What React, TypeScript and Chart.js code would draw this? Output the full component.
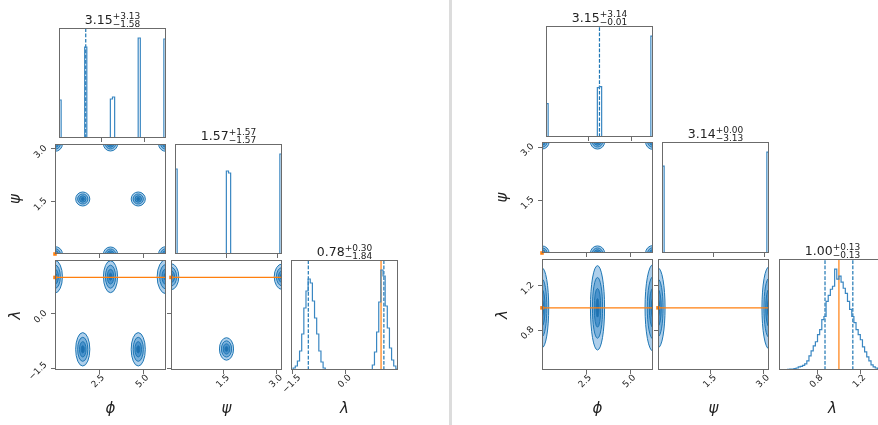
import React, { useEffect, useRef } from "react";
import { Chart, registerables } from "chart.js";

Chart.register(...registerables);

// ---------------- data ----------------
const PARAM_NAMES = ["ϕ", "ψ", "λ"];
const TRUTHS = [0.0, 0.0, 1.0];

const PHI_RANGE = [0, 6.2832];
const PSI_RANGE = [0, 3.1416];
const LEFT_LAM_RANGE = [-1.55, 1.48];
const RIGHT_LAM_RANGE = [0.44, 1.44];

const PHI_TICKS = [2.5, 5.0];
const PHI_TICK_LABELS = ["2.5", "5.0"];
const PSI_TICKS = [1.5, 3.0];
const PSI_TICK_LABELS = ["1.5", "3.0"];
const LEFT_LAM_TICKS = [-1.5, 0.0];
const LEFT_LAM_TICK_LABELS = ["−1.5", "0.0"];
const RIGHT_LAM_TICKS = [0.8, 1.2];
const RIGHT_LAM_TICK_LABELS = ["0.8", "1.2"];

// titles: median, +err, -err
const LEFT_MEDIANS = ["3.15", "1.57", "0.78"];
const LEFT_PLUS = ["+3.13", "+1.57", "+0.30"];
const LEFT_MINUS = ["−1.58", "−1.57", "−1.84"];
const RIGHT_MEDIANS = ["3.15", "3.14", "1.00"];
const RIGHT_PLUS = ["+3.14", "+0.00", "+0.13"];
const RIGHT_MINUS = ["−0.01", "−3.13", "−0.13"];

// quantile (16%, 84%) positions
const LEFT_PHI_Q = [1.57, 6.28];
const LEFT_PSI_Q = [0.0, 3.14];
const LEFT_LAM_Q = [-1.06, 1.08];
const RIGHT_PHI_Q = [3.14, 6.29];
const RIGHT_PSI_Q = [0.01, 3.14];
const RIGHT_LAM_Q = [0.87, 1.13];

// histogram counts, 50 bins over each range
const LEFT_PHI_COUNTS = [
  38, 0, 0, 0, 0, 0, 0, 0, 0, 0, 0, 0, 91, 0, 0, 0, 0, 0, 0, 0, 0, 0, 0, 0, 39,
  41, 0, 0, 0, 0, 0, 0, 0, 0, 0, 0, 0, 100, 0, 0, 0, 0, 0, 0, 0, 0, 0, 0, 0, 99,
];
const LEFT_PSI_COUNTS = [
  85, 0, 0, 0, 0, 0, 0, 0, 0, 0, 0, 0, 0, 0, 0, 0, 0, 0, 0, 0, 0, 0, 0, 0, 83,
  81, 0, 0, 0, 0, 0, 0, 0, 0, 0, 0, 0, 0, 0, 0, 0, 0, 0, 0, 0, 0, 0, 0, 0, 100,
];
const LEFT_LAM_COUNTS = [
  0, 2, 4, 9, 19, 36, 62, 79, 91, 87, 69, 52, 36, 19, 8, 2, 0, 0, 0, 0, 0, 0, 0, 0, 0,
  0, 0, 0, 0, 0, 0, 0, 0, 0, 0, 0, 0, 0, 5, 18, 38, 68, 100, 94, 64, 42, 22, 10, 4, 1,
];
const RIGHT_PHI_COUNTS = [
  33, 0, 0, 0, 0, 0, 0, 0, 0, 0, 0, 0, 0, 0, 0, 0, 0, 0, 0, 0, 0, 0, 0, 0, 49,
  50, 0, 0, 0, 0, 0, 0, 0, 0, 0, 0, 0, 0, 0, 0, 0, 0, 0, 0, 0, 0, 0, 0, 0, 100,
];
const RIGHT_PSI_COUNTS = [
  86, 0, 0, 0, 0, 0, 0, 0, 0, 0, 0, 0, 0, 0, 0, 0, 0, 0, 0, 0, 0, 0, 0, 0, 0,
  0, 0, 0, 0, 0, 0, 0, 0, 0, 0, 0, 0, 0, 0, 0, 0, 0, 0, 0, 0, 0, 0, 0, 0, 100,
];
const RIGHT_LAM_COUNTS = [
  0, 0, 0, 0.3, 0.7, 1, 1, 1.5, 2, 3, 3.5, 4.5, 6, 9, 14, 19, 24, 28, 35, 40, 50, 53, 68, 74, 80,
  83, 100, 90, 93, 87, 81, 76, 68, 60, 53, 47, 40, 35, 30, 23, 18, 13, 9, 5, 3, 2, 1, 1, 0, 0,
];

// 2D density blobs: centre (x, y) and outer-contour half-extent (rx, ry)
const LEFT_PHIPSI_X = [0, 3.142, 6.283, 1.571, 4.712, 0, 3.142, 6.283];
const LEFT_PHIPSI_Y = [0, 0, 0, 1.571, 1.571, 3.142, 3.142, 3.142];
const LEFT_PHIPSI_RX = [0.42, 0.4, 0.42, 0.4, 0.4, 0.42, 0.4, 0.42];
const LEFT_PHIPSI_RY = [0.21, 0.2, 0.21, 0.2, 0.2, 0.21, 0.2, 0.21];

const LEFT_PHILAM_X = [0, 3.142, 6.283, 1.571, 4.712];
const LEFT_PHILAM_Y = [1.02, 1.02, 1.02, -0.98, -0.98];
const LEFT_PHILAM_RX = [0.42, 0.4, 0.5, 0.4, 0.4];
const LEFT_PHILAM_RY = [0.45, 0.44, 0.47, 0.46, 0.46];

const LEFT_PSILAM_X = [0, 3.142, 1.571];
const LEFT_PSILAM_Y = [1.02, 1.02, -0.97];
const LEFT_PSILAM_RX = [0.22, 0.22, 0.2];
const LEFT_PSILAM_RY = [0.36, 0.35, 0.31];

const RIGHT_PHIPSI_X = [0, 3.142, 6.283, 0, 3.142, 6.283];
const RIGHT_PHIPSI_Y = [0, 0, 0, 3.142, 3.142, 3.142];
const RIGHT_PHIPSI_RX = [0.4, 0.4, 0.42, 0.4, 0.4, 0.42];
const RIGHT_PHIPSI_RY = [0.2, 0.2, 0.21, 0.2, 0.2, 0.21];

const RIGHT_PHILAM_X = [0, 3.142, 6.283];
const RIGHT_PHILAM_Y = [1.0, 1.0, 1.0];
const RIGHT_PHILAM_RX = [0.38, 0.4, 0.45];
const RIGHT_PHILAM_RY = [0.36, 0.38, 0.39];

const RIGHT_PSILAM_X = [0, 3.142];
const RIGHT_PSILAM_Y = [1.0, 1.0];
const RIGHT_PSILAM_RX = [0.2, 0.2];
const RIGHT_PSILAM_RY = [0.36, 0.37];

// ---------------- layout & style ----------------
const LEFT_COLS = [55, 171, 287];
const LEFT_ROWS = [28, 144, 260];
const LEFT_W = 111;
const LEFT_H = 110;
const RIGHT_COLS = [542, 658, 775];
const RIGHT_ROWS = [26, 142, 259];
const RIGHT_W = 111;
const RIGHT_H = 111;

const ML = 62;
const MR = 8;
const MT = 30;
const MB = 52;

const C0 = "#1f77b4";
const HIST_COLOR = "#3a87c2";
const ORANGE = "#ff7f0e";
const SPINE = "#6b6b6b";
const TEXT = "#222222";
const LEVEL_SCALE = [1, 0.72, 0.46, 0.22];
const LEVEL_FILLS = ["#aecfeb", "#79b0db", "#4a92cc", "#1f6fb0"];
const FONT = '"DejaVu Sans", sans-serif';

type Blobs = { x: number[]; y: number[]; rx: number[]; ry: number[] };
type Spec = {
  left: number;
  top: number;
  w: number;
  h: number;
  xRange: number[];
  xTicks: number[];
  xTickLabels: string[] | null;
  xTitle: string | null;
  yRange: number[] | null;
  yTicks: number[] | null;
  yTickLabels: string[] | null;
  yTitle: string | null;
  counts?: number[];
  quant?: number[];
  truthX?: number;
  title?: string[];
  blobs?: Blobs;
  truth2d?: number[];
};

function buildPlot(
  cols: number[],
  rows: number[],
  w: number,
  h: number,
  ranges: number[][],
  ticks: number[][],
  tickLabels: string[][],
  counts: number[][],
  quants: number[][],
  medians: string[],
  plus: string[],
  minus: string[],
  blobs: Record<string, Blobs>
): Spec[] {
  const specs: Spec[] = [];
  for (let r = 0; r < 3; r++) {
    for (let c = 0; c <= r; c++) {
      const isHist = r === c;
      const s: Spec = {
        left: cols[c],
        top: rows[r],
        w,
        h,
        xRange: ranges[c],
        xTicks: ticks[c],
        xTickLabels: r === 2 ? tickLabels[c] : null,
        xTitle: r === 2 ? PARAM_NAMES[c] : null,
        yRange: isHist ? null : ranges[r],
        yTicks: isHist ? null : ticks[r],
        yTickLabels: !isHist && c === 0 ? tickLabels[r] : null,
        yTitle: !isHist && c === 0 ? PARAM_NAMES[r] : null,
      };
      if (isHist) {
        s.counts = counts[c];
        s.quant = quants[c];
        s.truthX = TRUTHS[c];
        s.title = [medians[c], plus[c], minus[c]];
      } else {
        s.blobs = blobs[`${r}${c}`];
        s.truth2d = [TRUTHS[c], TRUTHS[r]];
      }
      specs.push(s);
    }
  }
  return specs;
}

const LEFT_SPECS = buildPlot(
  LEFT_COLS,
  LEFT_ROWS,
  LEFT_W,
  LEFT_H,
  [PHI_RANGE, PSI_RANGE, LEFT_LAM_RANGE],
  [PHI_TICKS, PSI_TICKS, LEFT_LAM_TICKS],
  [PHI_TICK_LABELS, PSI_TICK_LABELS, LEFT_LAM_TICK_LABELS],
  [LEFT_PHI_COUNTS, LEFT_PSI_COUNTS, LEFT_LAM_COUNTS],
  [LEFT_PHI_Q, LEFT_PSI_Q, LEFT_LAM_Q],
  LEFT_MEDIANS,
  LEFT_PLUS,
  LEFT_MINUS,
  {
    "10": { x: LEFT_PHIPSI_X, y: LEFT_PHIPSI_Y, rx: LEFT_PHIPSI_RX, ry: LEFT_PHIPSI_RY },
    "20": { x: LEFT_PHILAM_X, y: LEFT_PHILAM_Y, rx: LEFT_PHILAM_RX, ry: LEFT_PHILAM_RY },
    "21": { x: LEFT_PSILAM_X, y: LEFT_PSILAM_Y, rx: LEFT_PSILAM_RX, ry: LEFT_PSILAM_RY },
  }
);

const RIGHT_SPECS = buildPlot(
  RIGHT_COLS,
  RIGHT_ROWS,
  RIGHT_W,
  RIGHT_H,
  [PHI_RANGE, PSI_RANGE, RIGHT_LAM_RANGE],
  [PHI_TICKS, PSI_TICKS, RIGHT_LAM_TICKS],
  [PHI_TICK_LABELS, PSI_TICK_LABELS, RIGHT_LAM_TICK_LABELS],
  [RIGHT_PHI_COUNTS, RIGHT_PSI_COUNTS, RIGHT_LAM_COUNTS],
  [RIGHT_PHI_Q, RIGHT_PSI_Q, RIGHT_LAM_Q],
  RIGHT_MEDIANS,
  RIGHT_PLUS,
  RIGHT_MINUS,
  {
    "10": { x: RIGHT_PHIPSI_X, y: RIGHT_PHIPSI_Y, rx: RIGHT_PHIPSI_RX, ry: RIGHT_PHIPSI_RY },
    "20": { x: RIGHT_PHILAM_X, y: RIGHT_PHILAM_Y, rx: RIGHT_PHILAM_RX, ry: RIGHT_PHILAM_RY },
    "21": { x: RIGHT_PSILAM_X, y: RIGHT_PSILAM_Y, rx: RIGHT_PSILAM_RX, ry: RIGHT_PSILAM_RY },
  }
);

function drawRotatedLabel(ctx: CanvasRenderingContext2D, text: string, cx: number, cy: number, angle: number) {
  ctx.save();
  ctx.translate(cx, cy);
  ctx.rotate(angle);
  ctx.textAlign = "center";
  ctx.textBaseline = "middle";
  ctx.fillText(text, 0, 0);
  ctx.restore();
}

function makeDecor(spec: Spec) {
  return {
    id: "cornerDecor",
    beforeDatasetsDraw(chart: any) {
      const { ctx, chartArea: a, scales } = chart;
      const xs = scales.x;
      const ys = scales.y;
      if (spec.blobs) {
        const b = spec.blobs;
        ctx.save();
        ctx.beginPath();
        ctx.rect(a.left, a.top, a.right - a.left, a.bottom - a.top);
        ctx.clip();
        for (let i = 0; i < b.x.length; i++) {
          const cx = xs.getPixelForValue(b.x[i]);
          const cy = ys.getPixelForValue(b.y[i]);
          const rx = Math.abs(xs.getPixelForValue(b.x[i] + b.rx[i]) - cx);
          const ry = Math.abs(ys.getPixelForValue(b.y[i] + b.ry[i]) - cy);
          for (let k = 0; k < LEVEL_SCALE.length; k++) {
            ctx.beginPath();
            ctx.ellipse(cx, cy, rx * LEVEL_SCALE[k], ry * LEVEL_SCALE[k], 0, 0, Math.PI * 2);
            ctx.fillStyle = LEVEL_FILLS[k];
            ctx.fill();
            ctx.lineWidth = 1;
            ctx.strokeStyle = C0;
            ctx.stroke();
          }
        }
        ctx.restore();
      }
    },
    afterDatasetsDraw(chart: any) {
      const { ctx, chartArea: a } = chart;
      ctx.save();
      ctx.strokeStyle = SPINE;
      ctx.lineWidth = 1;
      ctx.strokeRect(a.left + 0.5, a.top + 0.5, a.right - a.left - 1, a.bottom - a.top - 1);
      ctx.restore();
    },
    afterDraw(chart: any) {
      const { ctx, chartArea: a, scales } = chart;
      const xs = scales.x;
      const ys = scales.y;
      ctx.save();
      ctx.fillStyle = TEXT;
      const tickFont = 9;
      ctx.font = `${tickFont}px ${FONT}`;
      if (spec.xTickLabels) {
        spec.xTicks.forEach((v, i) => {
          const t = spec.xTickLabels![i];
          const w = ctx.measureText(t).width;
          const ext = (w + tickFont * 0.73) / Math.SQRT2;
          const px = xs.getPixelForValue(v);
          drawRotatedLabel(ctx, t, px - 1, a.bottom + 4 + ext / 2, -Math.PI / 4);
        });
      }
      if (spec.yTickLabels && spec.yTicks && ys) {
        spec.yTicks.forEach((v, i) => {
          const t = spec.yTickLabels![i];
          const w = ctx.measureText(t).width;
          const ext = (w + tickFont * 0.73) / Math.SQRT2;
          const py = ys.getPixelForValue(v);
          drawRotatedLabel(ctx, t, a.left - 7 - ext / 2, py + 3, -Math.PI / 4);
        });
      }
      ctx.font = `italic 15px ${FONT}`;
      if (spec.xTitle) {
        drawRotatedLabel(ctx, spec.xTitle, (a.left + a.right) / 2, a.bottom + 39.5, 0);
      }
      if (spec.yTitle) {
        drawRotatedLabel(ctx, spec.yTitle, a.left - 39, (a.top + a.bottom) / 2, -Math.PI / 2);
      }
      if (spec.title) {
        const [m, p, n] = spec.title;
        ctx.font = `12.5px ${FONT}`;
        const wm = ctx.measureText(m).width;
        ctx.font = `9px ${FONT}`;
        const ws = Math.max(ctx.measureText(p).width, ctx.measureText(n).width);
        const x0 = (a.left + a.right) / 2 - (wm + ws) / 2;
        ctx.textAlign = "left";
        ctx.textBaseline = "alphabetic";
        ctx.font = `12.5px ${FONT}`;
        ctx.fillText(m, x0, a.top - 4);
        ctx.font = `9px ${FONT}`;
        ctx.fillText(p, x0 + wm, a.top - 9.5);
        ctx.fillText(n, x0 + wm, a.top - 1.5);
      }
      ctx.restore();
    },
  };
}

function buildConfig(spec: Spec): any {
  const isHist = !!spec.counts;
  const datasets: any[] = [];
  let yMin = 0;
  let yMax = 1;
  if (isHist) {
    const counts = spec.counts!;
    const n = counts.length;
    const [x0, x1] = spec.xRange;
    const bw = (x1 - x0) / n;
    const pts: { x: number; y: number }[] = [{ x: x0, y: 0 }];
    counts.forEach((c, i) => {
      pts.push({ x: x0 + i * bw, y: c });
      pts.push({ x: x0 + (i + 1) * bw, y: c });
    });
    pts.push({ x: x1, y: 0 });
    yMax = Math.max(...counts) * 1.1;
    datasets.push({
      data: pts,
      borderColor: HIST_COLOR,
      borderWidth: 1.2,
      pointRadius: 0,
      tension: 0,
      fill: false,
    });
    spec.quant!.forEach((q) => {
      datasets.push({
        data: [
          { x: q, y: 0 },
          { x: q, y: yMax },
        ],
        borderColor: C0,
        borderWidth: 1.2,
        borderDash: [3.7, 1.6],
        pointRadius: 0,
      });
    });
    datasets.push({
      data: [
        { x: spec.truthX, y: 0 },
        { x: spec.truthX, y: yMax },
      ],
      borderColor: ORANGE,
      borderWidth: 1.2,
      pointRadius: 0,
      clip: 0,
    });
  } else {
    [yMin, yMax] = spec.yRange!;
    const [tx, ty] = spec.truth2d!;
    datasets.push({
      data: [
        { x: spec.xRange[0], y: ty },
        { x: spec.xRange[1], y: ty },
      ],
      borderColor: ORANGE,
      borderWidth: 1.2,
      pointRadius: 0,
      clip: 0,
    });
    datasets.push({
      data: [
        { x: tx, y: yMin },
        { x: tx, y: yMax },
      ],
      borderColor: ORANGE,
      borderWidth: 1.2,
      pointRadius: 0,
      clip: 0,
    });
    datasets.push({
      data: [{ x: tx, y: ty }],
      showLine: false,
      pointStyle: "rect",
      pointRadius: 2.5,
      backgroundColor: ORANGE,
      borderWidth: 0,
      clip: 5,
    });
  }

  const tickGrid = {
    display: true,
    drawOnChartArea: false,
    drawTicks: true,
    tickLength: 4,
    color: SPINE,
    lineWidth: 1,
  };

  return {
    type: "line",
    data: { datasets },
    options: {
      animation: false,
      responsive: false,
      maintainAspectRatio: false,
      devicePixelRatio: 1,
      events: [],
      layout: {
        padding: {
          left: isHist ? ML : ML - 4,
          right: MR,
          top: MT,
          bottom: MB - 4,
        },
      },
      plugins: {
        legend: { display: false },
        tooltip: { enabled: false },
        title: { display: false },
      },
      scales: {
        x: {
          type: "linear",
          min: spec.xRange[0],
          max: spec.xRange[1],
          afterBuildTicks: (s: any) => {
            s.ticks = spec.xTicks.map((v) => ({ value: v }));
          },
          afterFit: (s: any) => {
            s.height = 4;
          },
          ticks: { display: false },
          grid: tickGrid,
          border: { display: false },
        },
        y: {
          type: "linear",
          display: !isHist,
          min: yMin,
          max: yMax,
          afterBuildTicks: (s: any) => {
            s.ticks = (spec.yTicks || []).map((v) => ({ value: v }));
          },
          afterFit: (s: any) => {
            s.width = 4;
          },
          ticks: { display: false },
          grid: tickGrid,
          border: { display: false },
        },
      },
    },
    plugins: [makeDecor(spec)],
  };
}

function Panel({ spec }: { spec: Spec }) {
  const ref = useRef<HTMLCanvasElement>(null);
  const cw = spec.w + ML + MR;
  const ch = spec.h + MT + MB;
  useEffect(() => {
    const chart = new Chart(ref.current as HTMLCanvasElement, buildConfig(spec));
    return () => chart.destroy();
  }, []);
  return (
    <canvas
      ref={ref}
      width={cw}
      height={ch}
      style={{
        position: "absolute",
        left: spec.left - ML,
        top: spec.top - MT,
        width: cw,
        height: ch,
      }}
    />
  );
}

export default function App() {
  return (
    <div
      style={{
        position: "fixed",
        left: 0,
        top: 0,
        width: 878,
        height: 425,
        overflow: "hidden",
        background: "#ffffff",
      }}
    >
      {LEFT_SPECS.map((s, i) => (
        <Panel key={"l" + i} spec={s} />
      ))}
      <div
        style={{
          position: "absolute",
          left: 449,
          top: 0,
          width: 3,
          height: 425,
          background: "#dcdcdc",
        }}
      />
      {RIGHT_SPECS.map((s, i) => (
        <Panel key={"r" + i} spec={s} />
      ))}
    </div>
  );
}
